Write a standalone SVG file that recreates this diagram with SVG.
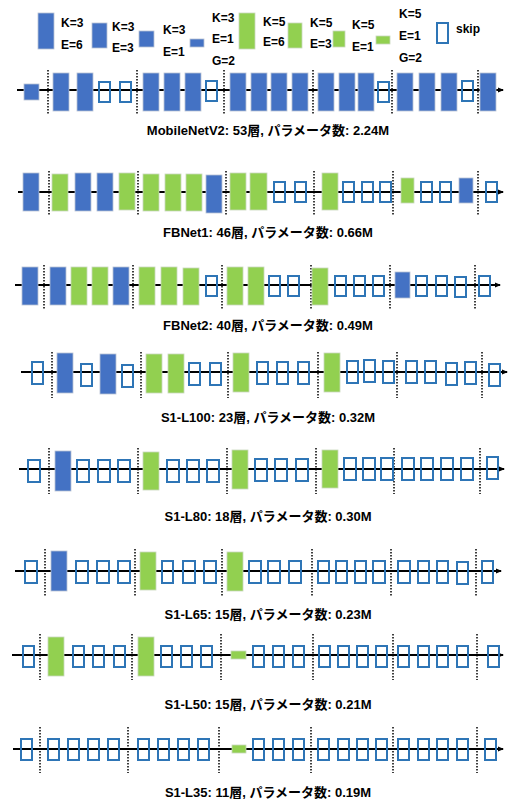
<svg xmlns="http://www.w3.org/2000/svg" width="510" height="799" viewBox="0 0 510 799">
<defs>
<style>
.b{fill:#4472C4;stroke:#B8C2D4;stroke-width:0.8}
.g{fill:#92D050;stroke:#C8D8BC;stroke-width:0.8}
.s{fill:none;stroke:#2E75B6;stroke-width:2}
.d{stroke:#000;stroke-width:1.5;stroke-dasharray:1.5,1.5}
.ln{stroke:#000;stroke-width:1.8;fill:none}
.lt{font-family:"Liberation Sans","Noto Sans CJK JP",sans-serif;font-weight:bold;font-size:12px;fill:#000}
.cap{font-family:"Liberation Sans","Noto Sans CJK JP",sans-serif;font-weight:bold;font-size:13px;fill:#000;text-anchor:middle}
</style>
<marker id="ar" markerWidth="6" markerHeight="6" refX="5" refY="3" orient="auto" markerUnits="userSpaceOnUse">
<path d="M0,0.5 L6,3 L0,5.5 Z" fill="#000"/>
</marker>
</defs>
<rect width="510" height="799" fill="#fff"/>

<g id="legend">
<rect class="b" x="38" y="13" width="16" height="36"/>
<text class="lt" x="61" y="27">K=3</text><text class="lt" x="61" y="49">E=6</text>
<rect class="b" x="92" y="23" width="15" height="25"/>
<text class="lt" x="112" y="31">K=3</text><text class="lt" x="112" y="52">E=3</text>
<rect class="b" x="139" y="31" width="15" height="16"/>
<text class="lt" x="163" y="34">K=3</text><text class="lt" x="163" y="56">E=1</text>
<rect class="b" x="190" y="39" width="14" height="8"/>
<text class="lt" x="212" y="22">K=3</text><text class="lt" x="212" y="43">E=1</text><text class="lt" x="212" y="65">G=2</text>
<rect class="g" x="239" y="13" width="16" height="36"/>
<text class="lt" x="263" y="26">K=5</text><text class="lt" x="263" y="46">E=6</text>
<rect class="g" x="288" y="23" width="14" height="25"/>
<text class="lt" x="310" y="27">K=5</text><text class="lt" x="310" y="48">E=3</text>
<rect class="g" x="333" y="31" width="12" height="16"/>
<text class="lt" x="352" y="29">K=5</text><text class="lt" x="352" y="51">E=1</text>
<rect class="g" x="376" y="36" width="14" height="8"/>
<text class="lt" x="399" y="18">K=5</text><text class="lt" x="399" y="40">E=1</text><text class="lt" x="399" y="62">G=2</text>
<rect class="s" x="437" y="23" width="11" height="20"/>
<text class="lt" x="456" y="33">skip</text>
</g>

<g id="connectors">
<line class="ln" x1="17" y1="90" x2="503" y2="90" marker-end="url(#ar)"/>
<line class="ln" x1="18" y1="192" x2="503" y2="192" marker-end="url(#ar)"/>
<line class="ln" x1="15" y1="285" x2="500" y2="285" marker-end="url(#ar)"/>
<line class="ln" x1="21" y1="372" x2="507" y2="372" marker-end="url(#ar)"/>
<line class="ln" x1="19" y1="469" x2="504" y2="469" marker-end="url(#ar)"/>
<line class="ln" x1="15" y1="571" x2="501" y2="571" marker-end="url(#ar)"/>
<line class="ln" x1="12" y1="655" x2="503" y2="655" marker-end="url(#ar)"/>
<line class="ln" x1="13" y1="749" x2="503" y2="749" marker-end="url(#ar)"/>
</g>

<g id="row-mobilenetv2">
<g class="dots">
<line class="d" x1="48" y1="70" x2="48" y2="114"/><line class="d" x1="137" y1="70" x2="137" y2="114"/><line class="d" x1="224" y1="70" x2="224" y2="114"/><line class="d" x1="313" y1="70" x2="313" y2="114"/><line class="d" x1="392" y1="70" x2="392" y2="114"/><line class="d" x1="478" y1="70" x2="478" y2="114"/>
</g>
<rect class="b" x="24" y="84" width="15" height="16"/>
<rect class="b" x="53" y="73" width="16" height="38"/><rect class="b" x="77" y="73" width="16" height="38"/>
<rect class="s" x="99" y="82" width="11" height="20"/><rect class="s" x="120" y="82" width="11" height="20"/>
<rect class="b" x="143" y="73" width="16" height="38"/><rect class="b" x="164" y="73" width="16" height="38"/><rect class="b" x="185" y="73" width="16" height="38"/>
<rect class="s" x="206" y="81" width="11" height="20"/>
<rect class="b" x="230" y="73" width="16" height="38"/><rect class="b" x="251" y="73" width="16" height="38"/><rect class="b" x="271" y="73" width="16" height="38"/><rect class="b" x="292" y="73" width="16" height="38"/>
<rect class="b" x="318" y="73" width="16" height="38"/><rect class="b" x="339" y="73" width="16" height="38"/><rect class="b" x="358" y="73" width="16" height="38"/>
<rect class="s" x="378" y="82" width="11" height="20"/>
<rect class="b" x="397" y="73" width="16" height="38"/><rect class="b" x="419" y="73" width="16" height="38"/><rect class="b" x="441" y="73" width="16" height="38"/>
<rect class="s" x="462" y="81" width="11" height="20"/>
<rect class="b" x="480" y="73" width="16" height="38"/>
<text class="cap" x="268" y="135">MobileNetV2: 53層, パラメータ数: 2.24M</text>
</g>

<g id="row-fbnet1">
<line class="d" x1="49" y1="171" x2="49" y2="216"/><line class="d" x1="138" y1="171" x2="138" y2="216"/><line class="d" x1="226" y1="171" x2="226" y2="216"/><line class="d" x1="314" y1="171" x2="314" y2="216"/><line class="d" x1="393" y1="171" x2="393" y2="216"/><line class="d" x1="478" y1="171" x2="478" y2="216"/>
<rect class="b" x="23" y="173" width="16" height="38"/>
<rect class="g" x="52" y="174" width="16" height="37"/><rect class="b" x="75" y="173" width="16" height="38"/><rect class="b" x="97" y="173" width="16" height="38"/><rect class="g" x="119" y="173" width="16" height="37"/>
<rect class="g" x="143" y="174" width="16" height="37"/><rect class="g" x="165" y="174" width="16" height="37"/><rect class="g" x="186" y="174" width="16" height="37"/><rect class="b" x="206" y="175" width="16" height="38"/>
<rect class="g" x="230" y="173" width="16" height="37"/><rect class="g" x="250" y="173" width="17" height="37"/>
<rect class="s" x="274" y="182" width="11" height="20"/><rect class="s" x="295" y="182" width="11" height="20"/>
<rect class="g" x="322" y="173" width="16" height="37"/>
<rect class="s" x="343" y="182" width="11" height="20"/><rect class="s" x="362" y="182" width="11" height="20"/><rect class="s" x="380" y="182" width="11" height="20"/>
<rect class="g" x="401" y="178" width="13" height="25"/>
<rect class="s" x="421" y="182" width="11" height="20"/><rect class="s" x="440" y="182" width="11" height="20"/>
<rect class="b" x="459" y="178" width="14" height="25"/>
<rect class="s" x="486" y="182" width="11" height="20"/>
<text class="cap" x="268" y="237">FBNet1: 46層, パラメータ数: 0.66M</text>
</g>

<g id="row-fbnet2">
<line class="d" x1="44" y1="265" x2="44" y2="310"/><line class="d" x1="133" y1="265" x2="133" y2="310"/><line class="d" x1="222" y1="265" x2="222" y2="310"/><line class="d" x1="311" y1="265" x2="311" y2="310"/><line class="d" x1="390" y1="265" x2="390" y2="310"/><line class="d" x1="475" y1="265" x2="475" y2="310"/>
<rect class="b" x="22" y="267" width="16" height="38"/>
<rect class="b" x="50" y="267" width="16" height="38"/><rect class="g" x="71" y="267" width="16" height="38"/><rect class="g" x="92" y="267" width="16" height="38"/><rect class="b" x="113" y="267" width="16" height="38"/>
<rect class="g" x="139" y="267" width="16" height="38"/><rect class="g" x="161" y="267" width="16" height="38"/><rect class="g" x="183" y="268" width="16" height="37"/>
<rect class="s" x="206" y="276" width="11" height="20"/>
<rect class="g" x="227" y="267" width="16" height="38"/><rect class="g" x="248" y="267" width="16" height="38"/>
<rect class="s" x="269" y="276" width="11" height="20"/><rect class="s" x="288" y="276" width="11" height="20"/>
<rect class="g" x="312" y="268" width="16" height="37"/>
<rect class="s" x="335" y="276" width="11" height="20"/><rect class="s" x="354" y="276" width="11" height="20"/><rect class="s" x="373" y="276" width="11" height="20"/>
<rect class="b" x="395" y="272" width="15" height="26"/>
<rect class="s" x="416" y="276" width="11" height="20"/><rect class="s" x="436" y="276" width="11" height="20"/><rect class="s" x="455" y="277" width="11" height="20"/>
<rect class="s" x="479" y="276" width="11" height="20"/>
<text class="cap" x="268" y="330">FBNet2: 40層, パラメータ数: 0.49M</text>
</g>

<g id="row-s1-l100">
<line class="d" x1="52" y1="352" x2="52" y2="398"/><line class="d" x1="141" y1="352" x2="141" y2="398"/><line class="d" x1="228" y1="352" x2="228" y2="398"/><line class="d" x1="318" y1="352" x2="318" y2="398"/><line class="d" x1="397" y1="352" x2="397" y2="398"/><line class="d" x1="482" y1="352" x2="482" y2="398"/>
<rect class="s" x="32" y="362" width="11" height="22"/>
<rect class="b" x="57" y="353" width="16" height="40"/><rect class="s" x="81" y="364" width="11" height="22"/><rect class="b" x="100" y="354" width="16" height="40"/><rect class="s" x="122" y="365" width="11" height="22"/>
<rect class="g" x="146" y="354" width="16" height="39"/><rect class="g" x="168" y="354" width="16" height="39"/><rect class="s" x="189" y="363" width="11" height="22"/><rect class="s" x="210" y="363" width="11" height="22"/>
<rect class="g" x="233" y="353" width="16" height="39"/><rect class="s" x="257" y="362" width="11" height="22"/><rect class="s" x="277" y="362" width="11" height="22"/><rect class="s" x="298" y="362" width="11" height="22"/>
<rect class="g" x="324" y="353" width="16" height="39"/><rect class="s" x="347" y="361" width="11" height="22"/><rect class="s" x="364" y="360" width="11" height="22"/><rect class="s" x="383" y="361" width="11" height="22"/>
<rect class="s" x="406" y="361" width="11" height="22"/><rect class="s" x="425" y="361" width="11" height="22"/><rect class="s" x="446" y="363" width="11" height="22"/><rect class="s" x="465" y="362" width="11" height="22"/>
<rect class="s" x="489" y="364" width="11" height="22"/>
<text class="cap" x="268" y="422">S1-L100: 23層, パラメータ数: 0.32M</text>
</g>

<g id="row-s1-l80">
<line class="d" x1="49" y1="448" x2="49" y2="494"/><line class="d" x1="138" y1="448" x2="138" y2="494"/><line class="d" x1="227" y1="448" x2="227" y2="494"/><line class="d" x1="316" y1="448" x2="316" y2="494"/><line class="d" x1="394" y1="448" x2="394" y2="494"/><line class="d" x1="480" y1="448" x2="480" y2="494"/>
<rect class="s" x="28" y="460" width="12" height="22"/>
<rect class="b" x="55" y="451" width="16" height="40"/><rect class="s" x="77" y="460" width="12" height="22"/><rect class="s" x="98" y="460" width="12" height="22"/><rect class="s" x="118" y="460" width="12" height="22"/>
<rect class="g" x="143" y="452" width="16" height="38"/><rect class="s" x="167" y="460" width="12" height="22"/><rect class="s" x="187" y="460" width="12" height="22"/><rect class="s" x="207" y="460" width="12" height="22"/>
<rect class="g" x="232" y="450" width="16" height="39"/><rect class="s" x="255" y="459" width="12" height="22"/><rect class="s" x="275" y="459" width="12" height="22"/><rect class="s" x="296" y="459" width="12" height="22"/>
<rect class="g" x="322" y="450" width="16" height="38"/><rect class="s" x="344" y="458" width="12" height="22"/><rect class="s" x="363" y="458" width="12" height="22"/><rect class="s" x="381" y="458" width="12" height="22"/>
<rect class="s" x="402" y="458" width="12" height="22"/><rect class="s" x="421" y="458" width="12" height="22"/><rect class="s" x="441" y="458" width="12" height="22"/><rect class="s" x="461" y="458" width="12" height="22"/>
<rect class="s" x="487" y="457" width="11" height="22"/>
<text class="cap" x="268" y="521">S1-L80: 18層, パラメータ数: 0.30M</text>
</g>

<g id="row-s1-l65">
<line class="d" x1="45" y1="549" x2="45" y2="596"/><line class="d" x1="135" y1="549" x2="135" y2="596"/><line class="d" x1="222" y1="549" x2="222" y2="596"/><line class="d" x1="312" y1="549" x2="312" y2="596"/><line class="d" x1="391" y1="549" x2="391" y2="596"/><line class="d" x1="476" y1="549" x2="476" y2="596"/>
<rect class="s" x="25" y="561" width="12" height="22"/>
<rect class="b" x="51" y="551" width="16" height="40"/><rect class="s" x="76" y="561" width="12" height="22"/><rect class="s" x="97" y="561" width="12" height="22"/><rect class="s" x="118" y="561" width="12" height="22"/>
<rect class="g" x="140" y="552" width="16" height="38"/><rect class="s" x="162" y="561" width="11" height="22"/><rect class="s" x="183" y="561" width="12" height="22"/><rect class="s" x="204" y="561" width="12" height="22"/>
<rect class="g" x="227" y="552" width="16" height="39"/><rect class="s" x="249" y="561" width="12" height="22"/><rect class="s" x="268" y="561" width="12" height="22"/><rect class="s" x="289" y="561" width="12" height="22"/>
<rect class="s" x="318" y="561" width="11" height="22"/><rect class="s" x="336" y="561" width="11" height="22"/><rect class="s" x="355" y="561" width="11" height="22"/><rect class="s" x="373" y="561" width="12" height="22"/>
<rect class="s" x="398" y="561" width="12" height="22"/><rect class="s" x="418" y="561" width="11" height="22"/><rect class="s" x="437" y="561" width="11" height="22"/><rect class="s" x="457" y="562" width="11" height="22"/>
<rect class="s" x="482" y="561" width="11" height="22"/>
<text class="cap" x="268" y="619">S1-L65: 15層, パラメータ数: 0.23M</text>
</g>

<g id="row-s1-l50">
<line class="d" x1="40" y1="634" x2="40" y2="680"/><line class="d" x1="132" y1="634" x2="132" y2="680"/><line class="d" x1="221" y1="634" x2="221" y2="680"/><line class="d" x1="313" y1="634" x2="313" y2="680"/><line class="d" x1="393" y1="634" x2="393" y2="680"/><line class="d" x1="477" y1="634" x2="477" y2="680"/>
<rect class="s" x="23" y="646" width="11" height="21"/>
<rect class="g" x="48" y="637" width="16" height="39"/><rect class="s" x="73" y="646" width="11" height="21"/><rect class="s" x="93" y="646" width="11" height="21"/><rect class="s" x="114" y="646" width="11" height="21"/>
<rect class="g" x="138" y="637" width="16" height="39"/><rect class="s" x="161" y="646" width="11" height="21"/><rect class="s" x="181" y="646" width="11" height="21"/><rect class="s" x="201" y="646" width="11" height="21"/>
<rect class="g" x="231" y="651" width="15" height="8"/><rect class="s" x="253" y="646" width="11" height="21"/><rect class="s" x="273" y="646" width="11" height="21"/><rect class="s" x="293" y="646" width="11" height="21"/>
<rect class="s" x="319" y="646" width="11" height="21"/><rect class="s" x="338" y="646" width="11" height="21"/><rect class="s" x="357" y="646" width="11" height="21"/><rect class="s" x="376" y="646" width="11" height="21"/>
<rect class="s" x="398" y="646" width="11" height="21"/><rect class="s" x="418" y="646" width="11" height="21"/><rect class="s" x="437" y="646" width="11" height="21"/><rect class="s" x="457" y="646" width="11" height="21"/>
<rect class="s" x="488" y="646" width="11" height="21"/>
<text class="cap" x="268" y="709">S1-L50: 15層, パラメータ数: 0.21M</text>
</g>

<g id="row-s1-l35">
<line class="d" x1="40" y1="727" x2="40" y2="773"/><line class="d" x1="128" y1="727" x2="128" y2="773"/><line class="d" x1="219" y1="727" x2="219" y2="773"/><line class="d" x1="311" y1="727" x2="311" y2="773"/><line class="d" x1="393" y1="727" x2="393" y2="773"/><line class="d" x1="477" y1="727" x2="477" y2="773"/>
<rect class="s" x="21" y="739" width="11" height="21"/>
<rect class="s" x="48" y="739" width="11" height="21"/><rect class="s" x="68" y="739" width="11" height="21"/><rect class="s" x="88" y="739" width="11" height="21"/><rect class="s" x="108" y="739" width="11" height="21"/>
<rect class="s" x="138" y="739" width="11" height="21"/><rect class="s" x="158" y="739" width="11" height="21"/><rect class="s" x="178" y="739" width="11" height="21"/><rect class="s" x="198" y="739" width="11" height="21"/>
<rect class="g" x="232" y="745" width="14" height="8"/><rect class="s" x="253" y="739" width="11" height="21"/><rect class="s" x="273" y="739" width="11" height="21"/><rect class="s" x="293" y="739" width="11" height="21"/>
<rect class="s" x="318" y="739" width="11" height="21"/><rect class="s" x="338" y="739" width="11" height="21"/><rect class="s" x="357" y="739" width="11" height="21"/><rect class="s" x="376" y="739" width="11" height="21"/>
<rect class="s" x="398" y="739" width="11" height="21"/><rect class="s" x="418" y="739" width="11" height="21"/><rect class="s" x="437" y="739" width="11" height="21"/><rect class="s" x="457" y="739" width="11" height="21"/>
<rect class="s" x="485" y="739" width="11" height="21"/>
<text class="cap" x="268" y="797">S1-L35: 11層, パラメータ数: 0.19M</text>
</g>
</svg>
